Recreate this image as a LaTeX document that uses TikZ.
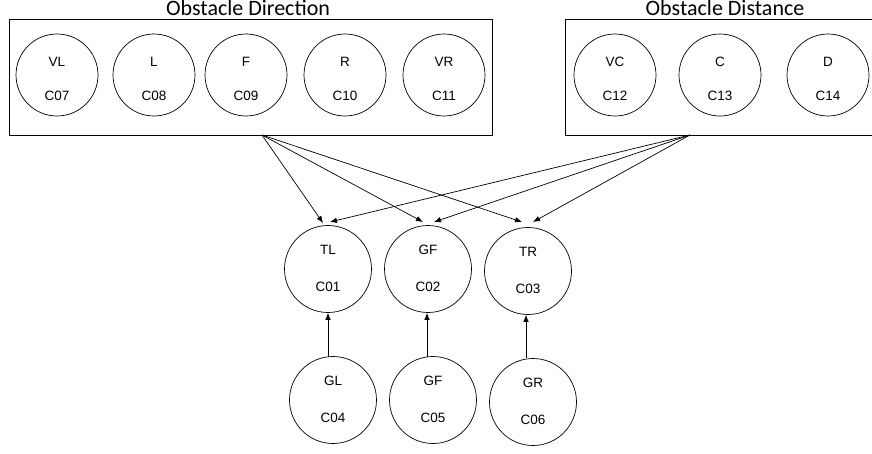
\documentclass[tikz,border=0pt]{standalone}
\usepackage{fontspec}
\setmainfont{Liberation Sans}
\newfontfamily\titlefont{Carlito}
\usetikzlibrary{arrows.meta}
\begin{document}
\begin{tikzpicture}[x=1pt,y=-1pt,
  circ/.style={draw,circle,minimum size=#1,inner sep=0pt,line width=0.7pt},
  circ/.default=82pt,
  lbl/.style={font=\fontsize{13.5}{15}\selectfont,inner sep=0pt},
  grp/.style={draw,line width=0.8pt},
  ttl/.style={font=\titlefont\fontsize{22}{26}\selectfont,inner sep=0pt,anchor=base},
  arr/.style={-{Latex[length=7pt,width=5.5pt]},line width=0.7pt}]
\useasboundingbox (0,0) rectangle (872,453);
% group boxes
\node[grp,minimum width=483pt,minimum height=116pt,inner sep=0pt] (dir) at (250.5,77) {};
\node[grp,minimum width=313pt,minimum height=116pt,inner sep=0pt] (dist) at (721.5,77) {};
\node[ttl] (tdir) at (248,15.5) {Obstacle Direction};
\node[ttl] (tdist) at (725,15.5) {Obstacle Distance};
\coordinate (sdir) at (262,135);
\coordinate (sdist) at (690,135);
% direction circles
\foreach \n/\x/\a/\b in {c07/57/VL/C07,c08/154/L/C08,c09/246/F/C09,c10/345/R/C10,c11/444/VR/C11,c12/615/VC/C12,c13/720/C/C13,c14/828/D/C14}{
  \node[circ] (\n) at (\x,75) {};
  \node[lbl] (\n a) at (\x,62) {\a};
  \node[lbl] (\n b) at (\x,96) {\b};
}
% output circles
\foreach \n/\x/\y/\a/\b in {c01/328/269/TL/C01,c02/428/269/GF/C02,c03/528/271/TR/C03,c04/333/400/GL/C04,c05/433/400/GF/C05,c06/533/402/GR/C06}{
  \node[circ=87pt] (\n) at (\x,\y) {};
  \node[lbl] (\n a) at (\x,\y-19) {\a};
  \node[lbl] (\n b) at (\x,\y+18) {\b};
}
% arrows
\coordinate (t1l) at (323,223);
\coordinate (t1r) at (330,222);
\coordinate (t2l) at (423,222);
\coordinate (t2r) at (434,222);
\coordinate (t3l) at (522,222);
\coordinate (t3r) at (533,222);
\draw[arr] (sdir) -- (t1l);
\draw[arr] (sdir) -- (t2l);
\draw[arr] (sdir) -- (t3l);
\draw[arr] (sdist) -- (t1r);
\draw[arr] (sdist) -- (t2r);
\draw[arr] (sdist) -- (t3r);
\draw[arr] (c04.north) ++(-5,1) coordinate (b1) (b1) -- (b1 |- c01.south);
\draw[arr] (c05.north) ++(-6,1) coordinate (b2) (b2) -- (b2 |- c02.south);
\draw[arr] (c06.north) ++(-7,0) coordinate (b3) (b3) -- (b3 |- c03.south);
\end{tikzpicture}
\end{document}
